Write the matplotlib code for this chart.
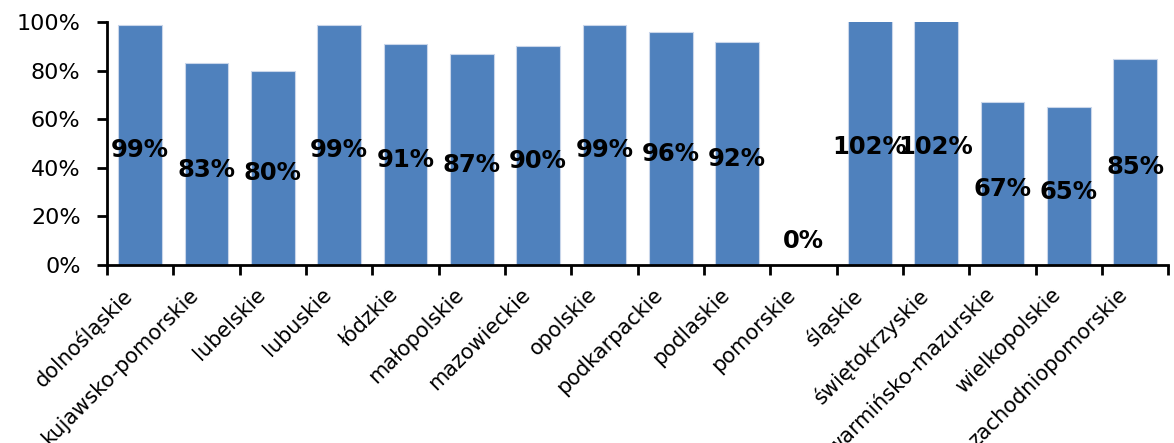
import matplotlib
matplotlib.use("Agg")
import matplotlib.pyplot as plt
import matplotlib.transforms as mtransforms
import numpy as np
from matplotlib.ticker import PercentFormatter

# województwa i wartości (udział)
regions = ["dolnośląskie", "kujawsko-pomorskie", "lubelskie", "lubuskie", "łódzkie",
           "małopolskie", "mazowieckie", "opolskie", "podkarpackie", "podlaskie",
           "pomorskie", "śląskie", "świętokrzyskie", "warmińsko-mazurskie",
           "wielkopolskie", "zachodniopomorskie"]
values = [0.99, 0.83, 0.80, 0.99, 0.91, 0.87, 0.90, 0.99, 0.96, 0.92,
          0.00, 1.02, 1.02, 0.67, 0.65, 0.85]
yticks = [0.0, 0.2, 0.4, 0.6, 0.8, 1.0]

fig = plt.figure(figsize=(11.74, 4.43), dpi=100)
ax = fig.add_axes([0.0911, 0.402, 0.904, 0.548])

x = np.arange(len(regions))
ax.bar(x, values, width=0.66, color="#4F81BD", edgecolor="#C9D6EA", linewidth=0.8)

# etykiety danych w środku słupka
for xi, v in zip(x, values):
    ax.annotate(f"{v * 100:.0f}%", (xi, max(v / 2, 0.12)), xytext=(0, -4),
                textcoords="offset points", ha="center", va="center",
                fontsize=17.5, fontweight="bold", color="black",
                annotation_clip=False)

ax.set_xlim(-0.5, len(regions) - 0.5)
ax.set_ylim(0, 1.0)
ax.set_yticks(yticks)
ax.yaxis.set_major_formatter(PercentFormatter(1.0, decimals=0))
ax.tick_params(axis="y", labelsize=16, direction="out", length=7, width=2, pad=12)

# ticki na granicach kategorii, etykiety w środku
ax.set_xticks(np.arange(-0.5, len(regions), 1.0))
ax.set_xticklabels([])
ax.set_xticks(x, minor=True)
ax.set_xticklabels(regions, minor=True, rotation=45, ha="right",
                   rotation_mode="anchor", fontsize=15)
ax.tick_params(axis="x", which="major", direction="out", length=7, width=2)
ax.tick_params(axis="x", which="minor", length=0, pad=14)
shift = mtransforms.ScaledTranslation(-18 / 100, 0, fig.dpi_scale_trans)
for lbl in ax.get_xticklabels(minor=True):
    lbl.set_transform(lbl.get_transform() + shift)

for side in ["top", "right"]:
    ax.spines[side].set_visible(False)
for side in ["left", "bottom"]:
    ax.spines[side].set_linewidth(2)

fig.savefig("out.png", dpi=100)
